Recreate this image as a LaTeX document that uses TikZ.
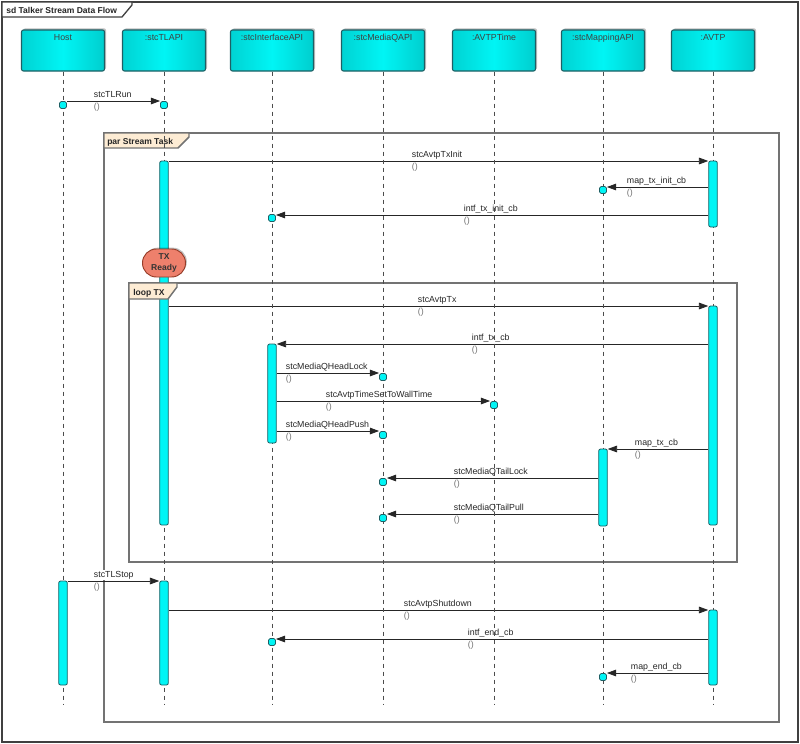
\documentclass[tikz,border=0pt]{standalone}
\usepackage{fontspec}
\setmainfont{Liberation Sans}
\usetikzlibrary{arrows.meta,shadows}

\definecolor{headcyan}{RGB}{0,245,245}
\definecolor{headedge}{RGB}{30,95,100}
\definecolor{tabfill}{RGB}{253,236,212}
\definecolor{framegray}{RGB}{115,115,115}
\definecolor{readyfill}{RGB}{238,128,108}
\definecolor{readyedge}{RGB}{150,60,40}

\newcommand{\msgfont}{\fontsize{6.6}{8}\selectfont}
\newcommand{\tabfont}{\bfseries\fontsize{6.4}{8}\selectfont}

\pgfdeclarelayer{bg}
\pgfdeclarelayer{fg}
\pgfsetlayers{bg,main,fg}

\tikzset{every picture/.style={line width=0.75pt}}
\tikzset{
  head/.style={draw=headedge, line width=0.8pt, rounded corners=1.5pt,
    left color=headcyan!86!black, right color=headcyan!84!black, middle color=headcyan,
    minimum width=62.25pt, text height=5pt, text depth=20.75pt, inner ysep=2.5pt,
    font=\msgfont, text=black!75,
    drop shadow={shadow xshift=1.2pt, shadow yshift=1.2pt, opacity=0.25, fill=black}},
  act/.style={draw=headedge, line width=0.6pt, fill=headcyan, rounded corners=1.5pt,
    minimum width=6.5pt, inner sep=0pt},
  sq/.style={draw=headedge, line width=0.6pt, fill=headcyan, rounded corners=1.2pt,
    minimum size=5.25pt, inner sep=0pt},
  ready/.style={draw=readyedge, line width=0.7pt, fill=readyfill, rounded corners=10.4pt,
    minimum width=32.25pt, minimum height=21pt, inner sep=1pt, align=center,
    font=\bfseries\fontsize{6.4}{8}\selectfont, text=black!80,
    drop shadow={shadow xshift=1pt, shadow yshift=1pt, opacity=0.25, fill=black}},
  life/.style={draw=black!70, line width=0.6pt, dash pattern=on 3.5pt off 2.5pt},
  msg/.style={draw=black!85, line width=0.6pt, -{Triangle[length=7pt,width=5pt]}},
  lbl/.style={anchor=base west, inner sep=0.5pt, fill=white, font=\msgfont, text=black!85},
  args/.style={lbl, text=black!55},
  frm/.style={draw=framegray, line width=1.1pt},
  tab/.style={draw=framegray, line width=1.1pt, fill=tabfill},
  tabtxt/.style={anchor=base west, inner sep=0pt, font=\tabfont, text=black!85}
}

\begin{document}
\begin{tikzpicture}[x=0.75pt,y=0.75pt,yscale=-1,xscale=1]
\useasboundingbox (0,0) rectangle (800,743);

%Rows of the messages
\coordinate (rRun) at (0,101);
\coordinate (rTxInit) at (0,161);
\coordinate (rMapInit) at (0,187);
\coordinate (rIntfInit) at (0,215);
\coordinate (rTx) at (0,306);
\coordinate (rIntfTx) at (0,344);
\coordinate (rHeadLock) at (0,373);
\coordinate (rWall) at (0,401);
\coordinate (rHeadPush) at (0,431);
\coordinate (rMapTx) at (0,449);
\coordinate (rTailLock) at (0,478);
\coordinate (rTailPull) at (0,514);
\coordinate (rStop) at (0,581);
\coordinate (rShut) at (0,610);
\coordinate (rIntfEnd) at (0,639);
\coordinate (rMapEnd) at (0,673);
\coordinate (bot) at (0,705);

%Lifeline heads
\node[head] (hHost) at (63,50.5) {Host};
\node[head] (hTL) at (164,50.5) {:stcTLAPI};
\node[head] (hIntf) at (272,50.5) {:stcInterfaceAPI};
\node[head] (hMQ) at (383,50.5) {:stcMediaQAPI};
\node[head] (hTime) at (494,50.5) {:AVTPTime};
\node[head] (hMap) at (603,50.5) {:stcMappingAPI};
\node[head] (hAVTP) at (713,50.5) {:AVTP};

\begin{pgfonlayer}{bg}
%Shape: Frame sd
\draw [draw=black!75, line width=1pt] (2,2) rectangle (798,742);
\draw [draw=black!75, line width=1pt, fill=white] (2,2) -- (132,2) -- (132,5) -- (122,17) -- (2,17) -- cycle;
\node[tabtxt] (tTitle) at (6,13) {sd Talker Stream Data Flow};
%Shape: Frame par
\draw [frm] (104,133) rectangle (779,722);
\draw [tab] (104,133) -- (189,133) -- (189,137) -- (178,148) -- (104,148) -- cycle;
\node[tabtxt] (tPar) at (107,144) {par Stream Task};
%Shape: Frame loop
\draw [frm] (129,283) rectangle (737,562);
\end{pgfonlayer}

\begin{pgfonlayer}{fg}
%Activations
\node[act, minimum height=273pt] (aTL1) at (164,343) {};
\node[act, minimum height=49.5pt] (aAV1) at (713,194) {};
\node[act, minimum height=164.25pt] (aAV2) at (713,415.5) {};
\node[act, minimum height=74.25pt] (aIn1) at (272,393.5) {};
\node[act, minimum height=57.75pt] (aMp1) at (603,487.5) {};
\node[act, minimum height=78pt] (aHo1) at (63,633) {};
\node[act, minimum height=78pt] (aTL2) at (164,633) {};
\node[act, minimum height=56.25pt] (aAV3) at (713,647.5) {};
%Calls
\node[sq] (sHost) at (63,105) {};
\node[sq] (sTL) at (164,105) {};
\node[sq] (sMp1) at (603,190) {};
\node[sq] (sIn1) at (272,218) {};
\node[sq] (sMQ1) at (383,377) {};
\node[sq] (sTm1) at (494,405) {};
\node[sq] (sMQ2) at (383,435) {};
\node[sq] (sMQ3) at (383,482) {};
\node[sq] (sMQ4) at (383,518) {};
\node[sq] (sIn2) at (272,642) {};
\node[sq] (sMp2) at (603,677) {};
%State
\node[ready] (txReady) at (164,263) {TX\\Ready};
%Shape: Tab loop
\draw [tab] (129,283) -- (177,283) -- (177,287) -- (168,299) -- (129,299) -- cycle;
\node[tabtxt] (tLoop) at (133,295) {loop TX};
\end{pgfonlayer}

%Messages
\draw[msg] (sHost.east |- rRun) -- (sTL.west |- rRun);
\draw[msg] (aTL1.east |- rTxInit) -- (aAV1.west |- rTxInit);
\draw[msg] (aAV1.west |- rMapInit) -- (sMp1.east |- rMapInit);
\draw[msg] (aAV1.west |- rIntfInit) -- (sIn1.east |- rIntfInit);
\draw[msg] (aTL1.east |- rTx) -- (aAV2.west |- rTx);
\draw[msg] (aAV2.west |- rIntfTx) -- (aIn1.east |- rIntfTx);
\draw[msg] (aIn1.east |- rHeadLock) -- (sMQ1.west |- rHeadLock);
\draw[msg] (aIn1.east |- rWall) -- (sTm1.west |- rWall);
\draw[msg] (aIn1.east |- rHeadPush) -- (sMQ2.west |- rHeadPush);
\draw[msg] (aAV2.west |- rMapTx) -- (aMp1.east |- rMapTx);
\draw[msg] (aMp1.west |- rTailLock) -- (sMQ3.east |- rTailLock);
\draw[msg] (aMp1.west |- rTailPull) -- (sMQ4.east |- rTailPull);
\draw[msg] (aHo1.east |- rStop) -- (aTL2.west |- rStop);
\draw[msg] (aTL2.east |- rShut) -- (aAV3.west |- rShut);
\draw[msg] (aAV3.west |- rIntfEnd) -- (sIn2.east |- rIntfEnd);
\draw[msg] (aAV3.west |- rMapEnd) -- (sMp2.east |- rMapEnd);

% Text Node
\node[lbl] (lRun) at (93,97) {stcTLRun};
\node[args] (pRun) at (93,109) {()};
% Text Node
\node[lbl] (lTxInit) at (411,157) {stcAvtpTxInit};
\node[args] (pTxInit) at (411,169) {()};
% Text Node
\node[lbl] (lMapInit) at (626,183) {map\_tx\_init\_cb};
\node[args] (pMapInit) at (626,195) {()};
% Text Node
\node[lbl] (lIntfInit) at (463,211) {intf\_tx\_init\_cb};
\node[args] (pIntfInit) at (463,223) {()};
% Text Node
\node[lbl] (lTx) at (417,302) {stcAvtpTx};
\node[args] (pTx) at (417,314) {()};
% Text Node
\node[lbl] (lIntfTx) at (471,340) {intf\_tx\_cb};
\node[args] (pIntfTx) at (471,352) {()};
% Text Node
\node[lbl] (lHeadLock) at (285,369) {stcMediaQHeadLock};
\node[args] (pHeadLock) at (285,381) {()};
% Text Node
\node[lbl] (lWall) at (325,397) {stcAvtpTimeSetToWallTime};
\node[args] (pWall) at (325,409) {()};
% Text Node
\node[lbl] (lHeadPush) at (285,427) {stcMediaQHeadPush};
\node[args] (pHeadPush) at (285,439) {()};
% Text Node
\node[lbl] (lMapTx) at (634,445) {map\_tx\_cb};
\node[args] (pMapTx) at (634,457) {()};
% Text Node
\node[lbl] (lTailLock) at (453,474) {stcMediaQTailLock};
\node[args] (pTailLock) at (453,486) {()};
% Text Node
\node[lbl] (lTailPull) at (453,510) {stcMediaQTailPull};
\node[args] (pTailPull) at (453,522) {()};
% Text Node
\node[lbl] (lStop) at (93,577) {stcTLStop};
\node[args] (pStop) at (93,589) {()};
% Text Node
\node[lbl] (lShut) at (403,606) {stcAvtpShutdown};
\node[args] (pShut) at (403,618) {()};
% Text Node
\node[lbl] (lIntfEnd) at (467,635) {intf\_end\_cb};
\node[args] (pIntfEnd) at (467,647) {()};
% Text Node
\node[lbl] (lMapEnd) at (630,669) {map\_end\_cb};
\node[args] (pMapEnd) at (630,681) {()};

%Lifelines
\draw[life] (hHost.south) -- (hHost.south |- bot);
\draw[life] (hTL.south) -- (hTL.south |- bot);
\draw[life] (hIntf.south) -- (hIntf.south |- bot);
\draw[life] (hMQ.south) -- (hMQ.south |- bot);
\draw[life] (hTime.south) -- (hTime.south |- bot);
\draw[life] (hMap.south) -- (hMap.south |- bot);
\draw[life] (hAVTP.south) -- (hAVTP.south |- bot);

\end{tikzpicture}
\end{document}
